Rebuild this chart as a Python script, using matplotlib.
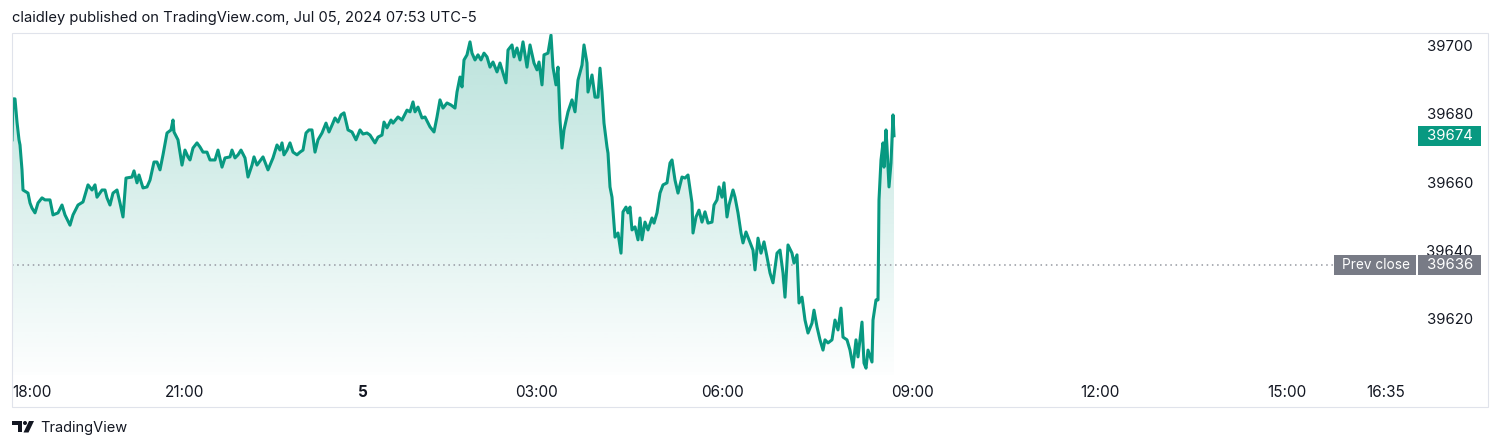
import numpy as np
import matplotlib
matplotlib.use("Agg")
from matplotlib import pyplot as plt
from matplotlib.patches import Rectangle, Polygon, Circle
from matplotlib.transforms import blended_transform_factory, Affine2D

plt.rcParams['font.family'] = ['Inter', 'DejaVu Sans']

# bar index along the time scale (TradingView spaces the chart by bars)
bars = [0, 1, 3, 5, 7, 8, 10, 11, 16, 18, 20, 23, 26, 30, 33, 38, 41, 46, 50, 53,
        58, 61, 66, 71, 76, 80, 83, 85, 90, 93, 95, 98, 101, 105, 108, 111, 114, 120, 122, 125,
        127, 131, 135, 138, 142, 145, 148, 151, 155, 159, 161, 162, 166, 170, 173, 176, 178, 181, 185, 188,
        191, 195, 198, 203, 206, 210, 213, 218, 220, 223, 226, 229, 233, 236, 240, 242, 245, 251, 256, 261,
        265, 268, 270, 272, 275, 278, 281, 285, 288, 291, 294, 297, 300, 303, 306, 310, 314, 317, 320, 323,
        326, 329, 332, 336, 340, 344, 348, 351, 355, 358, 363, 366, 370, 372, 375, 379, 381, 386, 390, 395,
        398, 401, 403, 406, 410, 413, 418, 422, 425, 428, 431, 435, 439, 443, 445, 448, 450, 452, 455, 458,
        460, 463, 466, 469, 472, 475, 478, 481, 485, 488, 491, 494, 496, 500, 502, 505, 508, 511, 515, 518,
        522, 525, 527, 530, 532, 536, 539, 541, 544, 546, 548, 550, 552, 556, 560, 563, 566, 570, 572, 575,
        576, 580, 583, 586, 588, 590, 592, 595, 596, 598, 600, 603, 606, 609, 611, 614, 616, 618, 620, 623,
        626, 628, 630, 633, 636, 640, 642, 645, 648, 651, 655, 658, 660, 663, 666, 670, 673, 676, 680, 681,
        684, 687, 690, 693, 696, 700, 702, 705, 707, 710, 712, 715, 717, 721, 723, 726, 729, 731, 734, 737,
        741, 743, 746, 749, 752, 755, 758, 761, 765, 768, 771, 773, 776, 780, 782, 785, 787, 790, 793, 796,
        800, 802, 805, 808, 811, 813, 816, 820, 823, 826, 829, 831, 835, 838, 841, 844, 846, 850, 852, 854,
        856, 860, 861, 864, 866, 867, 869, 871, 872, 874, 875, 877, 879, 881, 882]

price = [39672.8, 39684.8, 39684.8, 39678.0, 39672.8, 39671.3, 39664.0, 39658.1, 39657.2, 39654.3,
         39652.8, 39651.4, 39654.3, 39655.8, 39655.2, 39655.2, 39650.8, 39651.4, 39653.7, 39650.8,
         39647.8, 39650.8, 39653.7, 39654.6, 39659.6, 39658.1, 39659.6, 39656.0, 39658.1, 39658.1,
         39655.8, 39653.7, 39657.2, 39658.1, 39654.3, 39650.2, 39661.6, 39661.9, 39663.7, 39660.2,
         39662.5, 39658.7, 39659.0, 39661.0, 39666.3, 39666.3, 39664.0, 39668.4, 39674.8, 39675.7,
         39678.6, 39675.1, 39672.8, 39665.4, 39669.8, 39667.8, 39666.9, 39670.4, 39671.9, 39670.7,
         39669.2, 39669.2, 39666.9, 39666.9, 39669.8, 39664.8, 39667.5, 39667.8, 39669.8, 39667.5,
         39668.4, 39669.8, 39667.5, 39661.9, 39665.4, 39667.8, 39665.4, 39667.8, 39664.0, 39667.5,
         39671.3, 39669.8, 39671.9, 39668.4, 39669.8, 39671.9, 39669.2, 39668.4, 39669.2, 39669.8,
         39674.8, 39675.7, 39675.7, 39669.2, 39672.8, 39674.8, 39677.7, 39675.1, 39677.1, 39679.2,
         39678.0, 39680.1, 39680.7, 39675.7, 39675.1, 39672.8, 39675.7, 39674.5, 39674.8, 39674.2,
         39671.9, 39673.6, 39674.2, 39678.0, 39676.3, 39678.6, 39677.7, 39679.5, 39678.6, 39681.5,
         39681.0, 39683.9, 39681.0, 39682.4, 39679.2, 39679.5, 39676.6, 39675.1, 39679.5, 39684.5,
         39682.1, 39683.6, 39683.0, 39682.1, 39686.8, 39691.2, 39688.3, 39696.2, 39697.7, 39701.5,
         39698.2, 39696.2, 39697.7, 39696.2, 39698.2, 39697.1, 39694.1, 39695.6, 39692.7, 39695.3,
         39692.4, 39689.5, 39699.1, 39700.6, 39697.1, 39699.7, 39696.2, 39701.5, 39694.1, 39700.6,
         39695.3, 39693.3, 39695.6, 39688.9, 39697.7, 39698.2, 39703.5, 39694.1, 39688.9, 39694.1,
         39678.6, 39670.4, 39675.7, 39681.0, 39684.5, 39681.0, 39690.3, 39694.7, 39700.6, 39695.3,
         39686.8, 39691.8, 39685.3, 39685.3, 39693.8, 39686.8, 39677.7, 39670.7, 39668.9, 39659.0,
         39656.0, 39644.3, 39645.5, 39639.6, 39651.7, 39653.1, 39651.4, 39653.1, 39646.4, 39647.3,
         39643.5, 39649.9, 39643.5, 39648.7, 39646.4, 39649.9, 39648.4, 39651.4, 39657.2, 39659.6,
         39660.2, 39666.0, 39666.9, 39661.0, 39657.2, 39661.9, 39661.6, 39662.5, 39654.3, 39645.5,
         39650.2, 39652.2, 39648.7, 39651.7, 39648.4, 39648.7, 39653.7, 39655.2, 39659.0, 39656.0,
         39660.2, 39650.2, 39653.7, 39658.1, 39656.0, 39651.4, 39645.5, 39642.6, 39645.8, 39643.5,
         39640.5, 39634.7, 39644.0, 39639.6, 39642.9, 39638.5, 39633.8, 39630.9, 39639.6, 39640.5,
         39633.8, 39626.7, 39642.0, 39639.6, 39636.7, 39639.1, 39625.0, 39626.7, 39620.0, 39616.2,
         39619.1, 39622.9, 39618.0, 39614.2, 39611.2, 39614.2, 39613.3, 39614.2, 39620.0, 39617.1,
         39623.5, 39615.0, 39614.2, 39611.2, 39606.2, 39614.2, 39609.2, 39619.4, 39607.4, 39605.9,
         39611.2, 39607.7, 39620.0, 39625.9, 39625.9, 39655.2, 39666.9, 39671.9, 39664.8, 39675.7,
         39670.7, 39659.0, 39666.0, 39680.1, 39674.0]

last_price = 39674
prev_close = 39636
price_ticks = [39620, 39640, 39660, 39680, 39700]
time_ticks = [20, 173, 350.5, 525, 711, 900, 1088, 1275, 1374]
time_labels = ['18:00', '21:00', '5', '03:00', '06:00', '09:00', '12:00', '15:00', '16:35']

GREEN = '#089981'
GREY = '#787b86'
TEXT = '#131722'
FS = 10.7

W, H = 1500, 448
fig = plt.figure(figsize=(W / 100, H / 100), dpi=100)
ax = fig.add_axes([12 / W, 1 - 375 / H, 1476 / W, (375 - 33) / H])
ax.set_xlim(0, 1476)
ax.set_ylim(39603.9, 39704.1)
for s in ax.spines.values():
    s.set_visible(False)
ax.set_yticks([])
ax.set_xticks(time_ticks)
ax.set_xticklabels(time_labels, fontsize=11, color=TEXT)
ax.tick_params(axis='x', length=0, pad=7.5)
ax.get_xticklabels()[2].set_fontweight('bold')

# area gradient under the line
x = np.array(bars)
y = np.array(price)
y0, y1 = ax.get_ylim()
verts = [(x[0], y0)] + list(zip(x, y)) + [(x[-1], y0)]
clip = Polygon(verts, closed=True, facecolor='none', edgecolor='none')
ax.add_patch(clip)
grad = np.zeros((256, 1, 4))
grad[:, 0, 0] = 8 / 255
grad[:, 0, 1] = 153 / 255
grad[:, 0, 2] = 129 / 255
grad[:, 0, 3] = np.linspace(0.28, 0.01, 256)
im = ax.imshow(grad, aspect='auto', extent=[x[0], x[-1], y0, y1], origin='upper', zorder=1)
im.set_clip_path(clip)
ax.set_xlim(0, 1476)
ax.set_ylim(y0, y1)

ax.plot(x, y, color=GREEN, lw=2.2, zorder=3, solid_joinstyle='round')

# prev close dotted line
tr = blended_transform_factory(ax.transAxes, ax.transData)
ax.plot([0, (1334 - 12) / 1476], [prev_close, prev_close], transform=tr,
        color='#9598a1', lw=1.1, linestyle=(0, (1, 2.4)), zorder=2)

# price scale labels
for v in price_ticks:
    ax.text((1473 - 12) / 1476, v, str(v), transform=tr, ha='right', va='center',
            fontsize=FS, color=TEXT, zorder=4)

hh = 10 * (y1 - y0) / 342
ax.add_patch(Rectangle(((1418 - 12) / 1476, last_price - hh), 63 / 1476, 2 * hh,
                       transform=tr, facecolor=GREEN, edgecolor='none', zorder=5))
ax.text((1473 - 12) / 1476, last_price, str(last_price), transform=tr, ha='right',
        va='center', fontsize=FS, color='white', zorder=6)
ax.add_patch(Rectangle(((1334 - 12) / 1476, prev_close - hh), 82 / 1476, 2 * hh,
                       transform=tr, facecolor=GREY, edgecolor='none', zorder=5))
ax.add_patch(Rectangle(((1417.5 - 12) / 1476, prev_close - hh), 63.5 / 1476, 2 * hh,
                       transform=tr, facecolor=GREY, edgecolor='none', zorder=5))
ax.text((1376 - 12) / 1476, prev_close, 'Prev close', transform=tr, ha='center',
        va='center', fontsize=9.8, color='white', zorder=6)
ax.text((1473 - 12) / 1476, prev_close, str(prev_close), transform=tr, ha='right',
        va='center', fontsize=FS, color='white', zorder=6)

# outer frame
fig.patches.append(Rectangle((12 / W, 1 - 407 / H), 1476 / W, 374 / H, transform=fig.transFigure,
                             facecolor='none', edgecolor='#e0e3eb', lw=0.8))

fig.text(12 / W, 1 - 18 / H, 'claidley published on TradingView.com, Jul 05, 2024 07:53 UTC-5',
         fontsize=10.6, color=TEXT, va='center', ha='left')

# TradingView logo
px = Affine2D().scale(1 / W, -1 / H).translate(0, 1) + fig.transFigure
fig.patches.append(Polygon([(12, 421), (22, 421), (22, 432.5), (17.5, 432.5), (17.5, 425), (12, 425)],
                           closed=True, transform=px, facecolor=TEXT, edgecolor='none'))
fig.patches.append(Circle((25, 423), 2, transform=px, facecolor=TEXT, edgecolor='none'))
fig.patches.append(Polygon([(29, 421), (34, 421), (28.5, 432.5), (23.5, 432.5)],
                           closed=True, transform=px, facecolor=TEXT, edgecolor='none'))
fig.text(40 / W, 1 - 428 / H, 'TradingView', fontsize=10.5, color=TEXT, va='center', ha='left')

fig.savefig('out.png', dpi=100, facecolor='white')
